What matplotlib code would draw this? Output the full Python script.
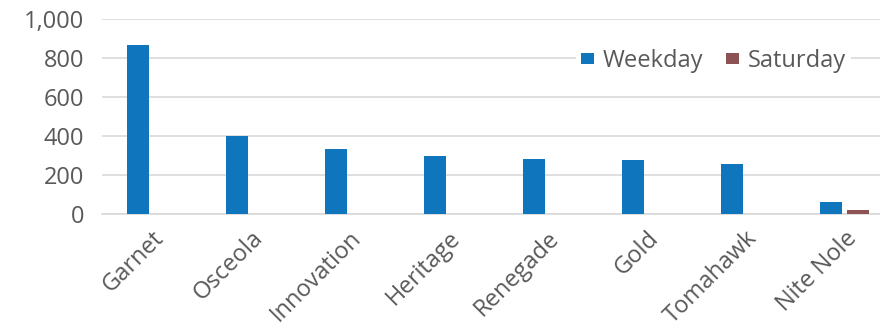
import numpy as np
import matplotlib
matplotlib.use('Agg')
import matplotlib.pyplot as plt

plt.rcParams['font.family'] = ['Open Sans', 'DejaVu Sans']

routes = ['Garnet', 'Osceola', 'Innovation', 'Heritage', 'Renegade',
          'Gold', 'Tomahawk', 'Nite Nole']
weekday = [867, 400, 333, 297, 282, 277, 256, 62]
saturday = [0, 0, 0, 0, 0, 0, 0, 20]
yticks = [0, 200, 400, 600, 800, 1000]

text_color = '#595959'
blue = '#0F75BD'
red = '#8C5254'

fig = plt.figure(figsize=(8.8, 3.31), dpi=100)
# axis spans past the right edge, like the original
ax = fig.add_axes([102 / 880, 117 / 331, 792 / 880, 195 / 331])

x = np.arange(len(routes))
w = 0.222
ax.bar(x - 0.141, weekday, w, color=blue, label='Weekday', zorder=3)
sat_x = [xi + 0.141 for xi, v in zip(x, saturday) if v > 0]
sat_v = [v for v in saturday if v > 0]
ax.bar(sat_x, sat_v, w, color=red, label='Saturday', zorder=3)

ax.set_xlim(-0.5, len(routes) - 0.5)
ax.set_ylim(0, 1000)
ax.set_yticks(yticks)
ax.set_yticklabels(['{:,}'.format(t) for t in yticks])
ax.yaxis.grid(True, color='#D9D9D9', linewidth=1.2, zorder=0)
ax.set_axisbelow(True)
for s in ['top', 'right', 'left']:
    ax.spines[s].set_visible(False)
ax.spines['bottom'].set_color('#D9D9D9')
ax.spines['bottom'].set_linewidth(1.2)

fs = 17
ax.set_xticks(x)
ax.set_xticklabels(routes, rotation=45, ha='right', rotation_mode='anchor')
ax.tick_params(axis='both', length=0, labelsize=fs, colors=text_color)
ax.tick_params(axis='y', pad=13)
ax.tick_params(axis='x', pad=9)

leg = ax.legend(loc='center right', bbox_to_anchor=(0.96, 0.785),
                ncol=2, frameon=True, fontsize=fs, handlelength=0.55,
                handleheight=0.4, handletextpad=0.35, columnspacing=1.0,
                borderpad=0.2)
leg.get_frame().set_edgecolor('none')
leg.get_frame().set_facecolor('white')
leg.get_frame().set_alpha(1)
for t in leg.get_texts():
    t.set_color(text_color)

fig.savefig('out.png', dpi=100)
